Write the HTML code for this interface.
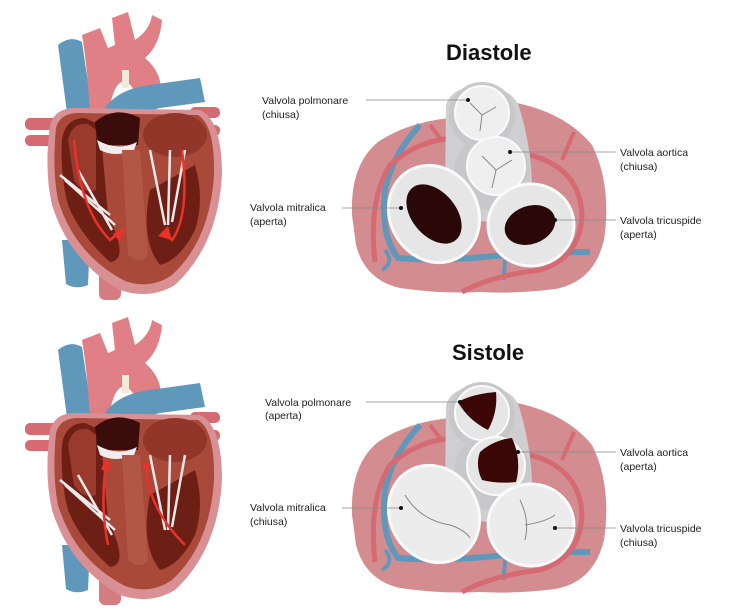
<!DOCTYPE html>
<html><head><meta charset="utf-8"><style>
html,body{margin:0;padding:0;background:#fff}
svg{display:block}
text{font-family:"Liberation Sans",Arial,sans-serif}
.l{font-size:10.5px;fill:#222}
.t{font-size:22px;font-weight:bold;fill:#111}
.ln{stroke:#888;stroke-width:0.8}
</style></head><body>
<svg width="740" height="612" viewBox="0 0 740 612" xmlns="http://www.w3.org/2000/svg">
<defs>
<g id="heart">
  <path d="M62 240 L90 240 L88 285 Q76 290 66 284 Z" fill="#5f98bb"/>
  <rect x="99" y="240" width="22" height="60" fill="#d57c83" rx="6"/>
  <path d="M58 45 Q70 35 82 42 L95 130 L70 135 Z" fill="#5f98bb"/>
  <path d="M82 35 L100 28 L108 48 L115 45 L112 18 L128 12 L135 40 Q150 30 152 15 L162 20 Q160 45 145 58 Q165 75 160 100 L135 100 Q135 82 122 82 Q112 85 108 120 L90 120 Q88 70 82 35 Z" fill="#e07f86"/>
  <rect x="122" y="70" width="7" height="18" fill="#f2ead8"/>
  <path d="M100 118 Q110 90 150 85 L200 78 L205 102 L160 108 Q140 112 135 130 Z" fill="#5f98bb"/>
  <rect x="25" y="118" width="40" height="12" fill="#d56a72" rx="5"/>
  <rect x="25" y="135" width="40" height="11" fill="#d56a72" rx="5"/>
  <rect x="190" y="107" width="30" height="11" fill="#d56a72" rx="5"/>
  <rect x="195" y="125" width="25" height="11" fill="#d56a72" rx="5"/>
  <path d="M50 125 Q55 108 75 108 L200 110 Q222 120 222 175 Q218 245 175 285 Q150 300 120 290 Q70 262 52 205 Q44 170 50 125 Z" fill="#d99094"/>
  <path d="M56 128 Q60 113 78 113 L198 115 Q215 125 214 175 Q210 240 172 275 Q150 290 125 281 Q75 255 58 200 Q52 170 56 128 Z" fill="#a8493a"/>
  <path d="M62 140 Q65 118 85 118 L100 125 L108 215 Q130 260 110 262 Q80 235 68 205 Q60 175 62 140 Z" fill="#6e1f15"/>
  <path d="M68 140 Q72 122 88 124 L96 130 L96 190 Q84 195 74 180 Z" fill="#9a3a2c"/>
  <path d="M150 190 L195 165 Q205 200 195 230 Q180 260 160 265 Q140 240 150 190 Z" fill="#6e1f15"/>
  <ellipse cx="175" cy="135" rx="32" ry="22" fill="#93362a"/>
  <path d="M95 122 Q115 105 140 118 L138 145 L98 145 Z" fill="#3a0d0c"/>
  <path d="M97 140 Q118 152 137 142 L134 150 Q115 158 100 150 Z" fill="#f2eded"/>
  <path d="M122 150 L140 150 L148 255 Q140 265 128 255 Z" fill="#b25746"/>
  <path d="M60 175 L110 215 M65 180 L115 225 M78 170 L112 230 M150 150 L165 225 M170 150 L168 225 M185 150 L172 222" stroke="#eeeaea" stroke-width="2.5" fill="none"/>
</g>
<g id="blob">
  <path d="M352 215 Q350 165 378 142 Q408 122 450 118 L452 100 Q480 92 512 102 Q565 112 592 145 Q612 185 604 240 Q594 282 555 289 Q515 294 480 292 Q440 294 400 288 Q365 280 356 245 Z" fill="#d38c90"/>
  <path d="M420 125 Q392 155 385 190 Q380 235 398 258 Q440 262 505 255 Q560 252 590 252" stroke="#5f98bb" stroke-width="6" fill="none"/>
  <path d="M385 250 Q395 262 382 270 M505 255 Q505 268 503 280" stroke="#5f98bb" stroke-width="4" fill="none"/>
  <path d="M375 262 Q368 200 390 165 Q420 138 460 138" stroke="#d56a72" stroke-width="5" fill="none"/>
  <path d="M430 125 L440 138" stroke="#d56a72" stroke-width="4"/>
  <path d="M530 155 Q580 168 582 215 Q580 258 540 270 Q490 276 462 292" stroke="#d56a72" stroke-width="5" fill="none"/>
  <path d="M562 160 L574 132" stroke="#d56a72" stroke-width="4"/>
  <path d="M446 105 Q452 86 482 86 Q515 88 520 110 Q532 150 532 190 Q520 222 490 222 Q448 220 445 190 Z" fill="#cfcfd2"/>
  <circle cx="482" cy="115" r="33" fill="#c8c8ca"/>
  <circle cx="492" cy="172" r="38" fill="#c8c8ca"/>
</g>
</defs>

<use href="#heart"/>
<path d="M74 140 Q80 210 110 240 L122 230" stroke="#e8322a" stroke-width="2.5" fill="none"/>
<path d="M113 234 L126 227 L120 242 Z" fill="#e8322a"/>
<path d="M182 150 Q190 215 172 240 L162 232" stroke="#e8322a" stroke-width="2.5" fill="none"/>
<path d="M168 226 L158 236 L172 240 Z" fill="#e8322a"/>
<use href="#heart" transform="translate(0,305)"/>
<path d="M108 545 Q100 505 106 465" stroke="#e8322a" stroke-width="2.5" fill="none"/>
<path d="M101 470 L106 457 L112 470 Z" fill="#e8322a"/>
<path d="M185 545 Q150 510 146 470" stroke="#e8322a" stroke-width="2.5" fill="none"/>
<circle cx="146" cy="466" r="3.5" fill="#e8322a"/>

<!-- Diastole -->
<text x="446" y="60" class="t">Diastole</text>
<use href="#blob"/>
<circle cx="482" cy="113" r="27" fill="#efefef" stroke="#fafafa" stroke-width="2"/>
<path d="M470 103 L482 115 L496 107 M482 115 L480 131" stroke="#888" stroke-width="1" fill="none"/>
<circle cx="496" cy="166" r="29" fill="#efefef" stroke="#fafafa" stroke-width="2"/>
<path d="M482 156 L496 170 L512 160 M496 170 L492 188" stroke="#888" stroke-width="1" fill="none"/>
<ellipse cx="434" cy="214" rx="44" ry="50" transform="rotate(-30 434 214)" fill="#e6e6e6" stroke="#fafafa" stroke-width="3"/>
<ellipse cx="434" cy="214" rx="22" ry="34" transform="rotate(-40 434 214)" fill="#2a0808"/>
<ellipse cx="531" cy="225" rx="43" ry="41" fill="#e6e6e6" stroke="#fafafa" stroke-width="3"/>
<ellipse cx="530" cy="225" rx="26" ry="19" transform="rotate(-20 530 225)" fill="#2a0808"/>
<line x1="366" y1="100" x2="468" y2="100" class="ln"/><circle cx="468" cy="100" r="2" fill="#111"/>
<line x1="510" y1="152" x2="616" y2="152" class="ln"/><circle cx="510" cy="152" r="2" fill="#111"/>
<line x1="342" y1="208" x2="401" y2="208" class="ln"/><circle cx="401" cy="208" r="2" fill="#111"/>
<line x1="555" y1="220" x2="616" y2="220" class="ln"/><circle cx="555" cy="220" r="2" fill="#111"/>
<text x="262" y="104" class="l">Valvola polmonare</text><text x="262" y="118" class="l">(chiusa)</text>
<text x="620" y="156" class="l">Valvola aortica</text><text x="620" y="170" class="l">(chiusa)</text>
<text x="250" y="211" class="l">Valvola mitralica</text><text x="250" y="225" class="l">(aperta)</text>
<text x="620" y="224" class="l">Valvola tricuspide</text><text x="620" y="238" class="l">(aperta)</text>

<!-- Sistole -->
<text x="452" y="360" class="t">Sistole</text>
<use href="#blob" transform="translate(0,300)"/>
<circle cx="482" cy="413" r="27" fill="#e6e6e6" stroke="#fafafa" stroke-width="2"/>
<path d="M458 402 Q472 394 496 392 Q498 412 488 430 Q468 420 458 402 Z" fill="#3a0606"/>
<circle cx="496" cy="466" r="29" fill="#e6e6e6" stroke="#fafafa" stroke-width="2"/>
<path d="M480 452 Q494 440 512 438 Q522 460 516 482 Q498 484 482 480 Q475 466 480 452 Z" fill="#3a0606"/>
<ellipse cx="434" cy="514" rx="44" ry="50" transform="rotate(-30 434 514)" fill="#ececec" stroke="#fafafa" stroke-width="3"/>
<path d="M405 495 Q420 520 450 525 Q465 530 470 538" stroke="#888" stroke-width="1" fill="none"/>
<ellipse cx="531" cy="525" rx="43" ry="41" fill="#ececec" stroke="#fafafa" stroke-width="3"/>
<path d="M520 500 Q530 520 525 540 M525 525 Q545 522 555 515" stroke="#888" stroke-width="1" fill="none"/>
<line x1="366" y1="402" x2="460" y2="402" class="ln"/><circle cx="460" cy="402" r="2" fill="#111"/>
<line x1="518" y1="452" x2="616" y2="452" class="ln"/><circle cx="518" cy="452" r="2" fill="#111"/>
<line x1="342" y1="508" x2="401" y2="508" class="ln"/><circle cx="401" cy="508" r="2" fill="#111"/>
<line x1="555" y1="528" x2="616" y2="528" class="ln"/><circle cx="555" cy="528" r="2" fill="#111"/>
<text x="265" y="406" class="l">Valvola polmonare</text><text x="265" y="419" class="l">(aperta)</text>
<text x="620" y="456" class="l">Valvola aortica</text><text x="620" y="470" class="l">(aperta)</text>
<text x="250" y="511" class="l">Valvola mitralica</text><text x="250" y="525" class="l">(chiusa)</text>
<text x="620" y="532" class="l">Valvola tricuspide</text><text x="620" y="546" class="l">(chiusa)</text>
</svg>
</body></html>
